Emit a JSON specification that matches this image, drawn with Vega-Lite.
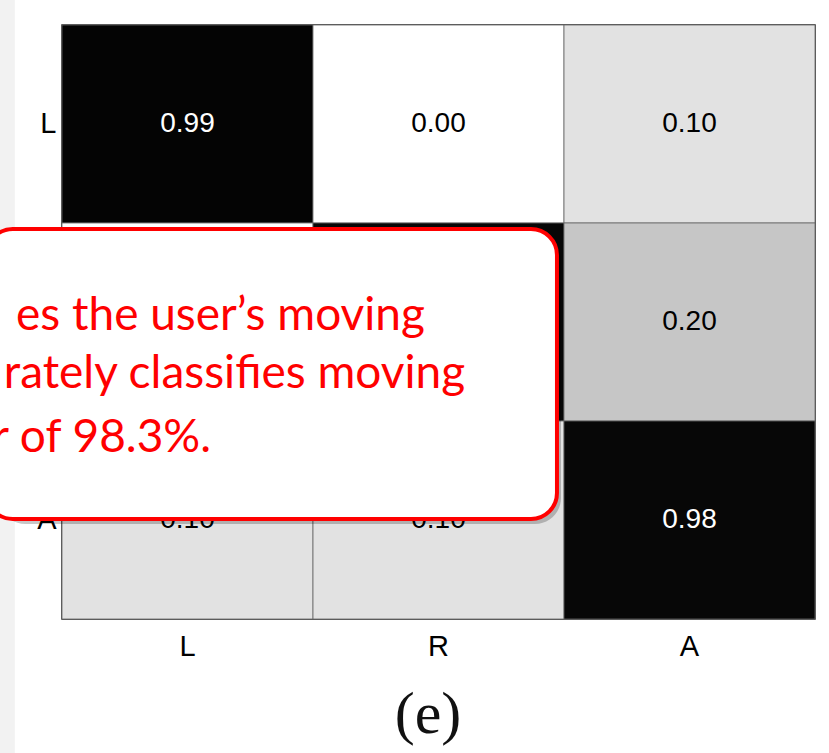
{
  "$schema": "https://vega.github.io/schema/vega-lite/v6.json",
  "width": 753,
  "height": 594,
  "autosize": {"type": "none"},
  "padding": {"left": 62, "top": 25, "right": 14, "bottom": 134},
  "background": "white",
  "config": {"view": {"stroke": "#222222", "strokeWidth": 1.5}},
  "layer": [
    {
      "data": {"values": [
        {"actual": "L", "pred": "L", "value": 0.99},
        {"actual": "L", "pred": "R", "value": 0.00},
        {"actual": "L", "pred": "A", "value": 0.10},
        {"actual": "R", "pred": "L", "value": 0.00},
        {"actual": "R", "pred": "R", "value": 0.98},
        {"actual": "R", "pred": "A", "value": 0.20},
        {"actual": "A", "pred": "L", "value": 0.10},
        {"actual": "A", "pred": "R", "value": 0.10},
        {"actual": "A", "pred": "A", "value": 0.98}
      ]},
      "encoding": {
        "x": {"field": "pred", "type": "nominal", "sort": ["L", "R", "A"], "scale": {"paddingInner": 0, "paddingOuter": 0},
              "axis": {"title": null, "orient": "bottom", "zindex": 0, "ticks": false, "domain": false, "labelAngle": 0, "labelFont": "Liberation Sans", "labelFontSize": 29, "labelColor": "#000000", "labelPadding": 13}},
        "y": {"field": "actual", "type": "nominal", "sort": ["L", "R", "A"], "scale": {"paddingInner": 0, "paddingOuter": 0},
              "axis": {"title": null, "zindex": 0, "ticks": false, "domain": false, "labelFont": "Liberation Sans", "labelFontSize": 29, "labelColor": "#000000", "labelPadding": 6}}
      },
      "layer": [
        {"mark": {"type": "rect", "stroke": "#666666", "strokeWidth": 0.8},
         "encoding": {"color": {"field": "value", "type": "quantitative", "scale": {"domain": [0, 1], "range": ["#ffffff", "#000000"]}, "legend": null}}},
        {"mark": {"type": "text", "font": "Liberation Sans", "fontSize": 28},
         "encoding": {"text": {"field": "value", "type": "quantitative", "format": ".2f"},
                      "color": {"condition": {"test": "datum.value > 0.5", "value": "#ffffff"}, "value": "#000000"}}}
      ]
    },
    {
      "layer": [
        {
          "data": {"values": [{"part": "page edge"}]},
          "mark": {"type": "rect", "fill": "#f2f2f2"},
          "encoding": {
            "x": {"datum": -0.25, "type": "quantitative", "scale": {"domain": [0, 3], "nice": false, "zero": false}, "axis": null},
            "x2": {"datum": -0.188},
            "y": {"datum": -0.13, "type": "quantitative", "scale": {"domain": [0, 3], "nice": false, "zero": false, "reverse": true}, "axis": null},
            "y2": {"datum": 3.68}
          }
        },
        {
          "data": {"values": [{"label": "(e)"}]},
          "mark": {"type": "text", "align": "center", "baseline": "alphabetic", "font": "Liberation Serif", "fontSize": 60, "color": "#111111"},
          "encoding": {
            "x": {"datum": 1.458, "type": "quantitative", "scale": {"domain": [0, 3], "nice": false, "zero": false}, "axis": null},
            "y": {"datum": 3.576, "type": "quantitative", "scale": {"domain": [0, 3], "nice": false, "zero": false, "reverse": true}, "axis": null},
            "text": {"field": "label"}
          }
        },
        {
          "data": {"values": [{"part": "shadow"}]},
          "mark": {"type": "rect", "fill": "#000000", "opacity": 0.22, "cornerRadius": 26},
          "encoding": {
            "x": {"datum": -0.25, "type": "quantitative", "scale": {"domain": [0, 3], "nice": false, "zero": false}, "axis": null},
            "x2": {"datum": 1.988},
            "y": {"datum": 1.055, "type": "quantitative", "scale": {"domain": [0, 3], "nice": false, "zero": false, "reverse": true}, "axis": null},
            "y2": {"datum": 2.52}
          }
        },
        {
          "data": {"values": [{"part": "callout"}]},
          "mark": {"type": "rect", "fill": "#ffffff", "stroke": "#ff0000", "strokeWidth": 4, "cornerRadius": 26},
          "encoding": {
            "x": {"datum": -0.3, "type": "quantitative", "scale": {"domain": [0, 3], "nice": false, "zero": false}, "axis": null},
            "x2": {"datum": 1.972},
            "y": {"datum": 1.03, "type": "quantitative", "scale": {"domain": [0, 3], "nice": false, "zero": false, "reverse": true}, "axis": null},
            "y2": {"datum": 2.495}
          }
        },
        {
          "data": {"values": [{"label": "es  the  user’s  moving"}]},
          "mark": {"type": "text", "align": "right", "baseline": "alphabetic", "font": "Lato", "fontSize": 46, "color": "#ff0000"},
          "encoding": {
            "x": {"datum": 1.446, "type": "quantitative", "scale": {"domain": [0, 3], "nice": false, "zero": false}, "axis": null},
            "y": {"datum": 1.54, "type": "quantitative", "scale": {"domain": [0, 3], "nice": false, "zero": false, "reverse": true}, "axis": null},
            "text": {"field": "label"}
          }
        },
        {
          "data": {"values": [{"label": "rately  classifies  moving"}]},
          "mark": {"type": "text", "align": "right", "baseline": "alphabetic", "font": "Lato", "fontSize": 46, "color": "#ff0000"},
          "encoding": {
            "x": {"datum": 1.606, "type": "quantitative", "scale": {"domain": [0, 3], "nice": false, "zero": false}, "axis": null},
            "y": {"datum": 1.833, "type": "quantitative", "scale": {"domain": [0, 3], "nice": false, "zero": false, "reverse": true}, "axis": null},
            "text": {"field": "label"}
          }
        },
        {
          "data": {"values": [{"label": "r of 98.3%."}]},
          "mark": {"type": "text", "align": "right", "baseline": "alphabetic", "font": "Lato", "fontSize": 46, "color": "#ff0000"},
          "encoding": {
            "x": {"datum": 0.594, "type": "quantitative", "scale": {"domain": [0, 3], "nice": false, "zero": false}, "axis": null},
            "y": {"datum": 2.157, "type": "quantitative", "scale": {"domain": [0, 3], "nice": false, "zero": false, "reverse": true}, "axis": null},
            "text": {"field": "label"}
          }
        }
      ]
    }
  ],
  "resolve": {"scale": {"x": "independent", "y": "independent", "color": "independent"}}
}
